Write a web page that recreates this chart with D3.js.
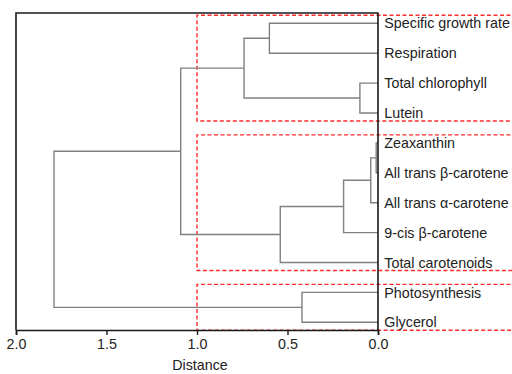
<!DOCTYPE html>
<html>
<head>
<meta charset="utf-8">
<script src="https://cdn.jsdelivr.net/npm/d3@7"></script>
<style>
  html, body { margin: 0; padding: 0; background: #fff; }
  svg { display: block; }
  text { font-family: "Liberation Sans", Arial, sans-serif; }
</style>
</head>
<body>
<script>
// ---- data ----
const leafLabels = [
  "Specific growth rate", "Respiration", "Total chlorophyll", "Lutein",
  "Zeaxanthin", "All trans β-carotene", "All trans α-carotene",
  "9-cis β-carotene", "Total carotenoids", "Photosynthesis", "Glycerol"
];
// linkage (scipy style): nodes 0..10 are leaves, 11.. are clusters
const mergeLeft   = [4, 11, 12, 13, 2, 0, 16, 9, 17, 19];
const mergeRight  = [5, 6, 7, 8, 3, 1, 15, 10, 14, 18];
const mergeHeight = [0.01, 0.04, 0.19, 0.54, 0.10, 0.60, 0.74, 0.42, 1.09, 1.79];
// clusters highlighted at cut distance 1.0 (first leaf, last leaf)
const clusterCut = 1.0;
const groupFirst = [0, 4, 9];
const groupLast  = [3, 8, 10];
const xTicks = [2.0, 1.5, 1.0, 0.5, 0.0];

// ---- layout ----
const W = 512, H = 374;
const mLeft = 16, mRight = 378, mTop = 13, mBottom = 330;
const fs = 14.3;

const svg = d3.select("body").append("svg").attr("width", W).attr("height", H);

const x = d3.scaleLinear().domain([2, 0]).range([mLeft, mRight]);
const y = d3.scalePoint().domain(d3.range(leafLabels.length)).range([23.3, 322.3]);

// node positions
const nodes = [];
leafLabels.forEach((l, i) => nodes.push({ h: 0, y: y(i) }));
mergeHeight.forEach((h, k) => {
  const a = nodes[mergeLeft[k]], b = nodes[mergeRight[k]];
  nodes.push({ h: h, y: (a.y + b.y) / 2, a: mergeLeft[k], b: mergeRight[k] });
});

// red dashed cluster boxes (drawn first)
const pad = 8;
groupFirst.forEach((f, g) => {
  const y0 = y(f) - pad, y1 = y(groupLast[g]) + pad;
  svg.append("path")
    .attr("d", `M${W + 5},${y0}H${x(clusterCut)}V${y1}H${W + 5}`)
    .attr("fill", "none")
    .attr("stroke", "#ff2a2a")
    .attr("stroke-width", 1.4)
    .attr("stroke-dasharray", "4,2.5");
});

// dendrogram links
const linkG = svg.append("g").attr("fill", "none").attr("stroke", "#808080").attr("stroke-width", 1.4);
nodes.forEach(n => {
  if (n.a === undefined) return;
  const a = nodes[n.a], b = nodes[n.b];
  linkG.append("path")
    .attr("d", `M${x(a.h)},${a.y}H${x(n.h)}V${b.y}H${x(b.h)}`);
});

// frame
svg.append("path")
  .attr("d", `M${mLeft},${mBottom}V${mTop}H${mRight}V${mBottom}`)
  .attr("fill", "none").attr("stroke", "#1a1a1a").attr("stroke-width", 1.6);

// bottom axis
const axis = svg.append("g").attr("transform", `translate(0,${mBottom})`)
  .call(d3.axisBottom(x).tickValues(xTicks).tickFormat(d3.format(".1f")).tickSizeOuter(0).tickSize(5).tickPadding(4));
axis.select(".domain").attr("stroke", "#1a1a1a").attr("stroke-width", 1.6);
axis.selectAll(".tick line").attr("stroke", "#1a1a1a").attr("stroke-width", 1.4);
axis.selectAll(".tick text").attr("font-size", fs).attr("fill", "#222")
  .attr("font-family", "'Liberation Sans', Arial, sans-serif");

svg.append("text").attr("x", 200).attr("y", 370).attr("text-anchor", "middle")
  .attr("font-size", fs).attr("fill", "#222").text("Distance");

// leaf labels
svg.append("g").selectAll("text").data(leafLabels).join("text")
  .attr("x", mRight + 6.3).attr("y", (d, i) => y(i)).attr("dy", "0.36em")
  .attr("font-size", fs).attr("fill", "#222").text(d => d);
</script>
</body>
</html>
